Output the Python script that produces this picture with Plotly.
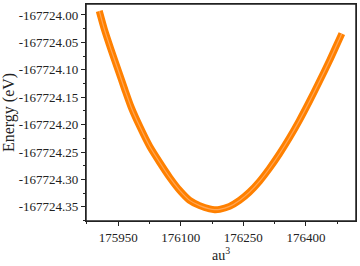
import plotly.graph_objects as go

# Volume (au^3) and total energy (eV)
volume = [175904.6, 175916.6, 175932.6, 175950.0, 175966.0, 175981.5, 176001.8,
          176025.7, 176049.6, 176073.5, 176097.4, 176121.3, 176145.2, 176169.1,
          176181.0, 176193.0, 176216.9, 176240.7, 176264.6, 176288.5, 176312.4,
          176336.3, 176360.2, 176384.1, 176408.0, 176431.9, 176455.8, 176470.1,
          176486.1]
energy = [-167723.9927, -167724.0255, -167724.0627, -167724.1009, -167724.1364,
          -167724.1691, -167724.2036, -167724.2400, -167724.2691, -167724.2964,
          -167724.3200, -167724.3382, -167724.3478, -167724.3538, -167724.3551,
          -167724.3545, -167724.3491, -167724.3382, -167724.3231, -167724.3036,
          -167724.2800, -167724.2536, -167724.2245, -167724.1927, -167724.1582,
          -167724.1218, -167724.0845, -167724.0607, -167724.0340]

y_tickvals = [-167724.00, -167724.05, -167724.10, -167724.15, -167724.20,
              -167724.25, -167724.30, -167724.35]
y_ticktext = ["-167724.00", "-167724.05", "-167724.10", "-167724.15",
              "-167724.20", "-167724.25", "-167724.30", "-167724.35"]
x_tickvals = [175950, 176100, 176250, 176400]
x_ticktext = ["175950", "176100", "176250", "176400"]

orange = "#FF8000"
font = "Liberation Serif, Times New Roman, serif"

fig = go.Figure()
fig.add_trace(go.Scatter(
    x=volume, y=energy, mode="lines",
    line=dict(color=orange, width=7, shape="spline", smoothing=0.6),
    hoverinfo="skip", showlegend=False))
fig.add_trace(go.Scatter(
    x=volume, y=energy, mode="lines",
    line=dict(color="#FFC090", width=1.2, shape="spline", smoothing=0.6),
    opacity=0.6, hoverinfo="skip", showlegend=False))

axis_common = dict(
    showline=True, linecolor="#222222", linewidth=1.2, mirror=True,
    ticks="outside", ticklen=4, tickwidth=1, tickcolor="#222222",
    showgrid=False, zeroline=False, automargin=False,
    tickfont=dict(family=font, size=13, color="#222222"),
)

fig.update_xaxes(
    range=[175872.8, 176520.0], tickmode="array",
    tickvals=x_tickvals, ticktext=x_ticktext,
    minor=dict(ticks="outside", ticklen=2, tickcolor="#222222",
               tick0=175875, dtick=150),
    title=dict(text="au<sup>3</sup>", font=dict(family=font, size=14, color="#222222"),
               standoff=6),
    **axis_common)
fig.update_yaxes(
    range=[-167724.3758, -167723.9800], tickmode="array",
    tickvals=y_tickvals, ticktext=y_ticktext,
    minor=dict(ticks="outside", ticklen=2, tickcolor="#222222",
               tick0=-167723.975, dtick=0.05),
    title=dict(text="Energy (eV)", font=dict(family=font, size=16, color="#222222"),
               standoff=6),
    **axis_common)

fig.add_shape(type="rect", xref="paper", yref="paper", x0=0, y0=0, x1=1, y1=1,
              line=dict(color="#222222", width=1.5), layer="above")

fig.update_layout(
    width=360, height=266,
    margin=dict(l=86, r=4, t=4, b=45),
    paper_bgcolor="white", plot_bgcolor="white",
)

fig.write_html("out.html", config={"displayModeBar": False},
               post_script="document.body.style.margin='0';document.body.style.padding='0';document.body.style.overflow='hidden';")
